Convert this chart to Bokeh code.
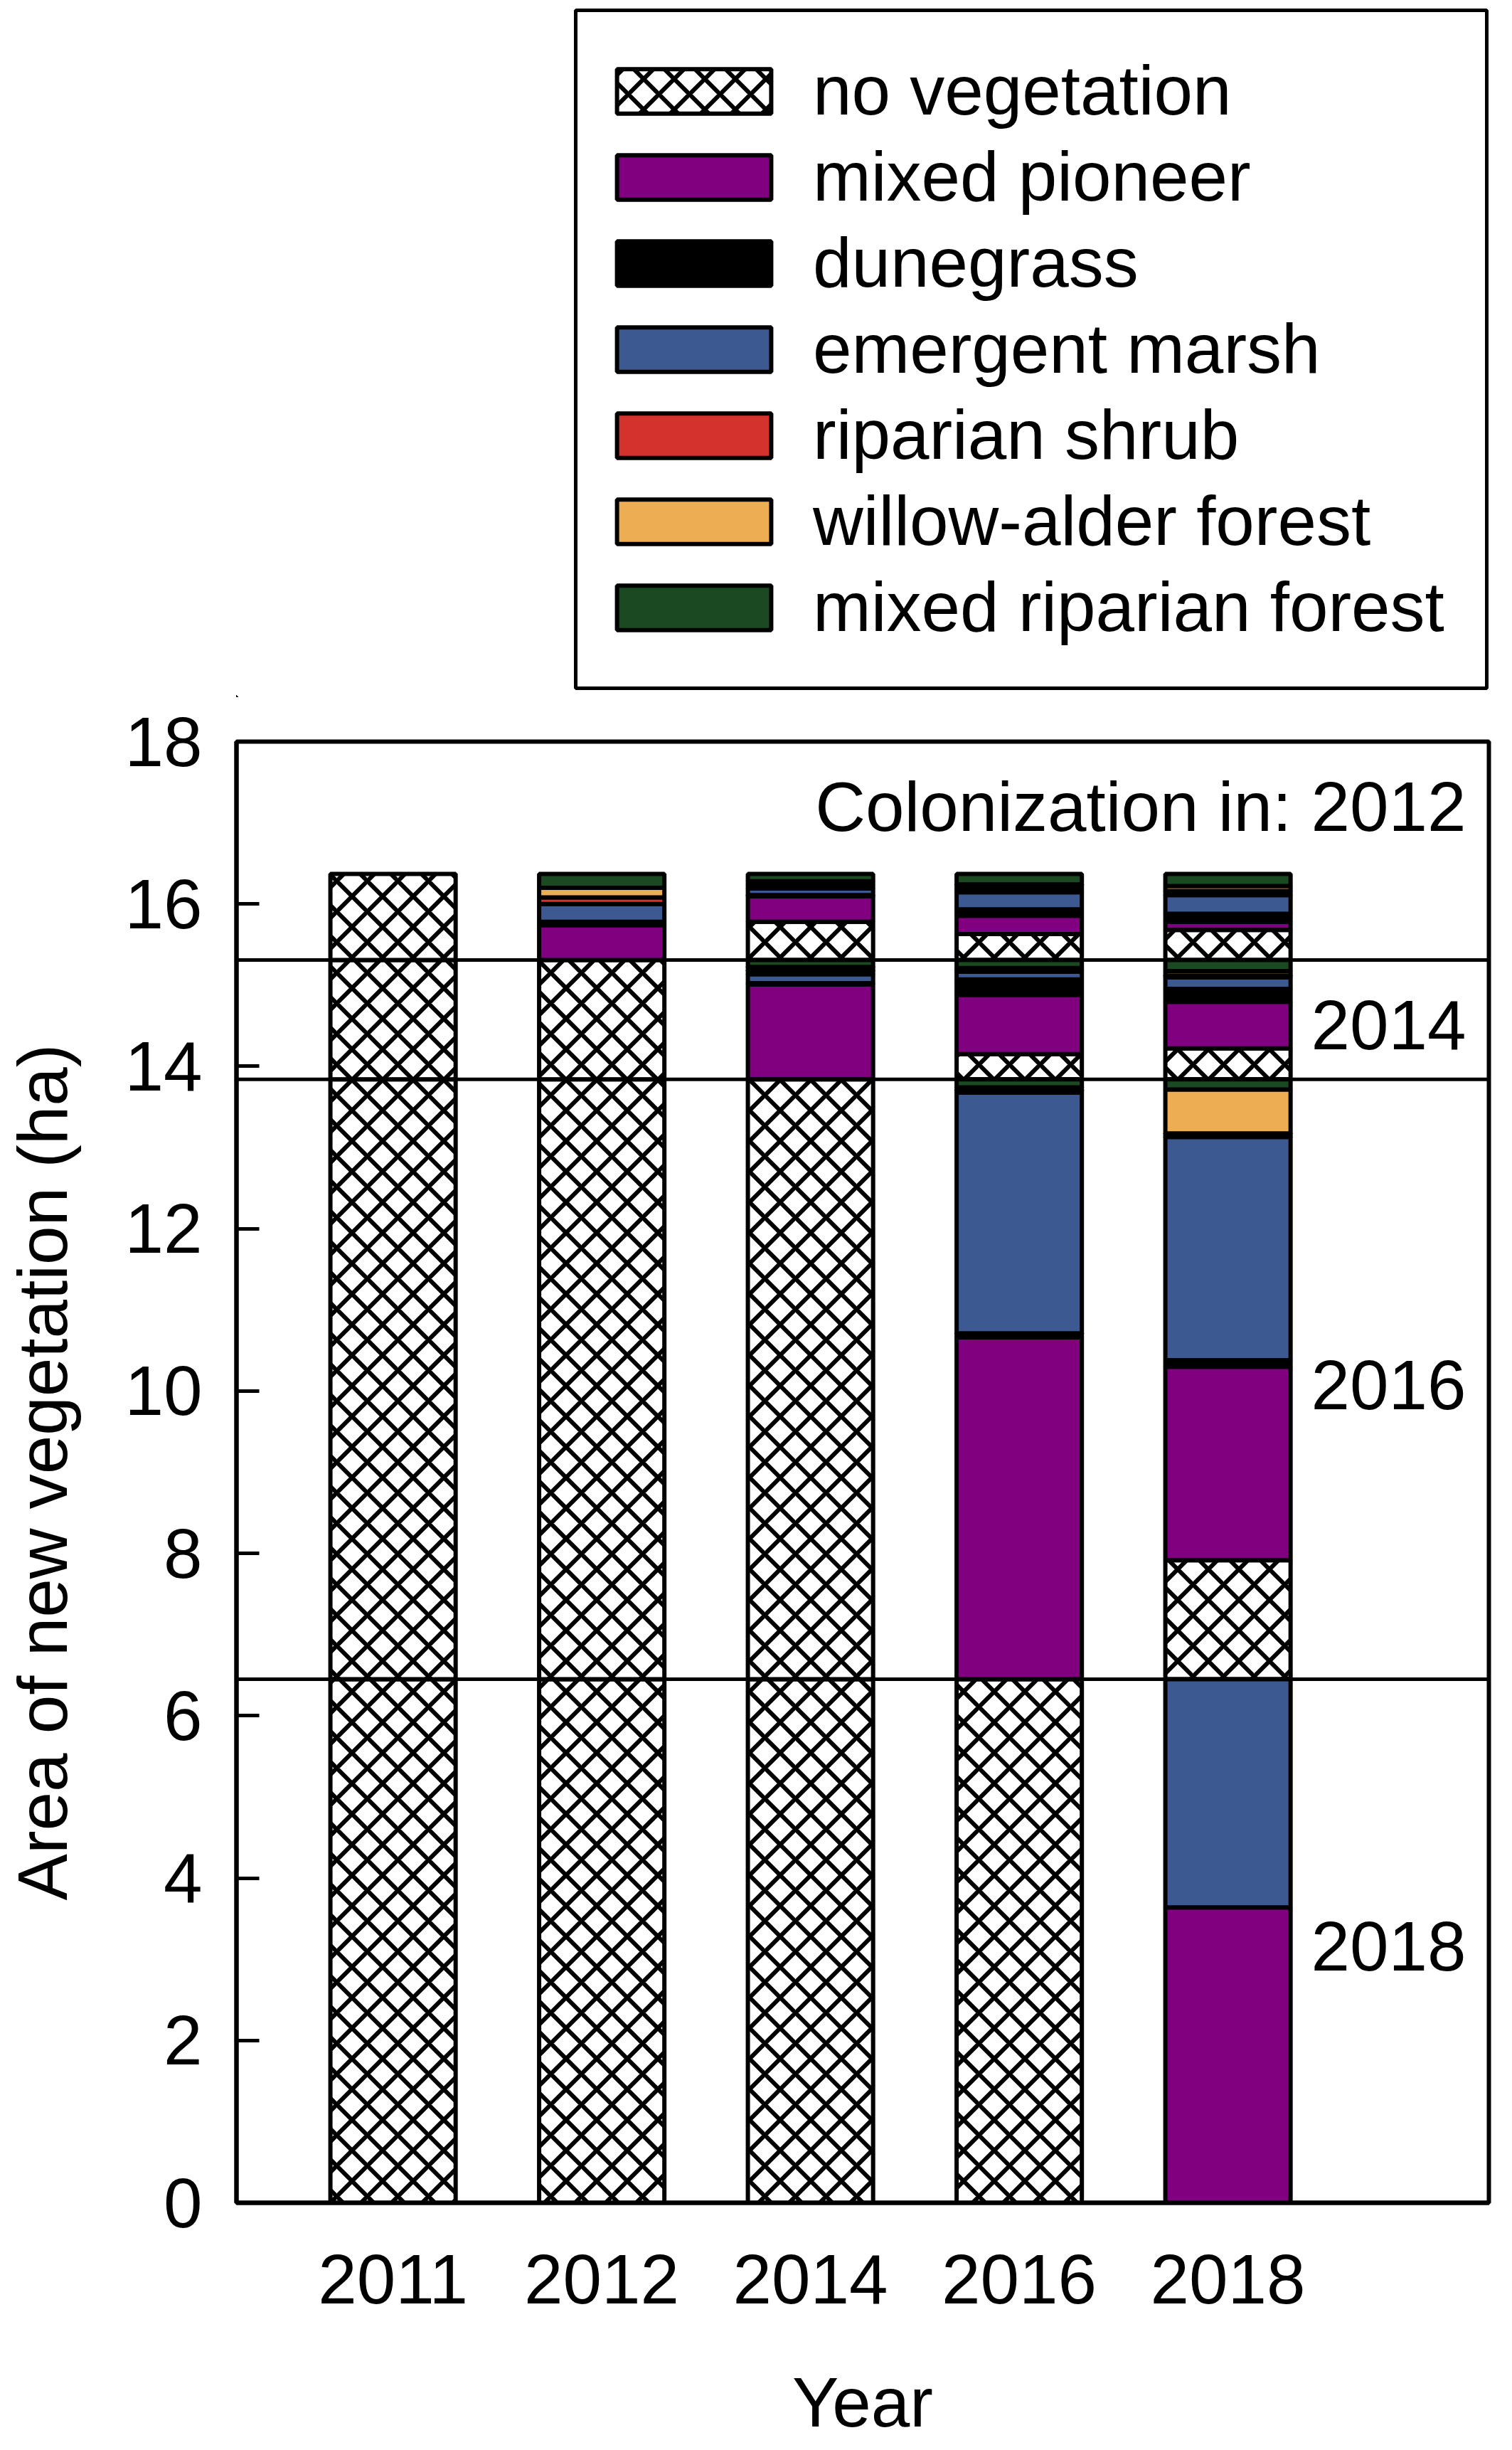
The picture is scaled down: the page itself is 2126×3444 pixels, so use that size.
import numpy as np
from bokeh.plotting import figure
from bokeh.layouts import column
from bokeh.models import Legend, LegendItem, FixedTicker, Span, Range1d, Label, BoxAnnotation
from bokeh.embed import file_html
from bokeh.resources import INLINE
from bokeh.core.properties import value

# ---------------- data ----------------
years = ["2011", "2012", "2014", "2016", "2018"]
# colonization cohorts, stacked from the bottom of each bar to the top
cohorts = ["2018", "2016", "2014", "Colonization in: 2012"]
categories = ["no vegetation", "mixed pioneer", "dunegrass", "emergent marsh",
              "riparian shrub", "willow-alder forest", "mixed riparian forest"]
colors = ["white", "#800080", "#000000", "#3C5A91", "#D3322D", "#EDAD52", "#1B4A22"]

# area (ha) per cohort (rows: cohort 2018, 2016, 2014, 2012) in category order
area_2011 = [[6.45, 0, 0, 0, 0, 0, 0],
             [7.39, 0, 0, 0, 0, 0, 0],
             [1.47, 0, 0, 0, 0, 0, 0],
             [1.06, 0, 0, 0, 0, 0, 0]]
area_2012 = [[6.45, 0, 0, 0, 0, 0, 0],
             [7.39, 0, 0, 0, 0, 0, 0],
             [1.47, 0, 0, 0, 0, 0, 0],
             [0, 0.43, 0.04, 0.22, 0.08, 0.12, 0.17]]
area_2014 = [[6.45, 0, 0, 0, 0, 0, 0],
             [7.39, 0, 0, 0, 0, 0, 0],
             [0, 1.17, 0.015, 0.11, 0.045, 0.045, 0.085],
             [0.47, 0.315, 0.015, 0.08, 0.045, 0.045, 0.09]]
area_2016 = [[6.45, 0, 0, 0, 0, 0, 0],
             [0, 4.21, 0.05, 2.965, 0.033, 0.033, 0.099],
             [0.31, 0.73, 0.19, 0.096, 0.022, 0.022, 0.10],
             [0.32, 0.225, 0.08, 0.21, 0.045, 0.05, 0.13]]
area_2018 = [[0, 3.64, 0, 2.81, 0, 0, 0],
             [1.465, 2.385, 0.08, 2.75, 0.044, 0.54, 0.126],
             [0.38, 0.575, 0.16, 0.14, 0.023, 0.055, 0.137],
             [0.37, 0.10, 0.10, 0.23, 0.05, 0.06, 0.15]]

bars = [area_2011, area_2012, area_2014, area_2016, area_2018]

# ---------------- build segments ----------------
segs = {c: dict(x=[], bottom=[], top=[]) for c in categories}
for i, bar in enumerate(bars):
    base = 0.0
    for cohort_vals in bar:
        for cat, v in zip(categories, cohort_vals):
            if v > 0:
                segs[cat]["x"].append(i)
                segs[cat]["bottom"].append(base)
                segs[cat]["top"].append(base + v)
            base += v

cohort_totals = [sum(row) for row in area_2011]
bounds = np.cumsum(cohort_totals)

FONT = "Liberation Sans"
FS = "98px"
W = 2110
BL, BR = 332, 17
LEG_H = 980
FRAME_W = W - BL - BR
OFF = 10000  # legend panel uses pixel-like units, shifted so the proxy bars stay out of view


def style_kw(cat, col):
    kw = dict(fill_color=col, line_color="black", line_width=6)
    if cat == "no vegetation":
        kw.update(hatch_pattern="diagonal_cross", hatch_color="black",
                  hatch_weight=6, hatch_scale=43)
    return kw


# ---------------- legend panel ----------------
fl = figure(width=W, height=LEG_H, output_backend="svg", toolbar_location=None,
            x_range=Range1d(OFF, OFF + FRAME_W), y_range=Range1d(OFF, OFF + LEG_H),
            x_axis_location=None, y_axis_location=None,
            min_border_left=BL, min_border_right=BR, min_border_top=0, min_border_bottom=0)
fl.grid.visible = False
fl.outline_line_color = None
leg_renderers = []
for cat, col in zip(categories, colors):
    leg_renderers.append(fl.vbar(x=segs[cat]["x"], width=0.6, bottom=segs[cat]["bottom"],
                                 top=segs[cat]["top"], **style_kw(cat, col)))

legend = Legend(items=[LegendItem(label=c, renderers=[r]) for c, r in zip(categories, leg_renderers)],
                location=(508, 70), orientation="vertical",
                glyph_width=271, glyph_height=78, label_standoff=32,
                spacing=8, padding=33, margin=0,
                label_text_font=FONT, label_text_font_size=FS, label_text_color="black",
                border_line_color=None, background_fill_alpha=0.0)
fl.add_layout(legend, "center")
fl.add_layout(BoxAnnotation(left=OFF + 477, right=OFF + 1758, bottom=OFF + 13, top=OFF + 966,
                            fill_color=None, line_color="black", line_width=5, line_alpha=1.0))

# ---------------- main figure ----------------
p = figure(width=W, height=2306, output_backend="svg", toolbar_location=None,
           x_range=Range1d(-0.75, 5.25), y_range=Range1d(0, 18),
           min_border_left=BL, min_border_right=BR, min_border_top=62,
           min_border_bottom=190)

for cat, col in zip(categories, colors):
    p.vbar(x=segs[cat]["x"], width=0.6, bottom=segs[cat]["bottom"], top=segs[cat]["top"],
           **style_kw(cat, col))

for b in bounds[:-1]:
    p.add_layout(Span(location=float(b), dimension="width", line_color="black", line_width=5))

# cohort labels
mids = [(lo + hi) / 2 for lo, hi in zip(np.r_[0, bounds[:-1]], bounds)]
p.text(x=[5.25] * 3, y=mids[:3], text=cohorts[:3], text_align="right",
       text_baseline="middle", x_offset=-32, y_offset=8, text_font=value(FONT),
       text_font_size=FS, text_color="black")
p.add_layout(Label(x=5.25, y=18, text=cohorts[3], text_align="right",
                   text_baseline="alphabetic", x_offset=-32, y_offset=-91,
                   text_font=FONT, text_font_size=FS, text_color="black"))

p.grid.visible = False
p.outline_line_color = "black"
p.outline_line_width = 6

p.xaxis.ticker = FixedTicker(ticks=list(range(len(years))))
p.xaxis.major_label_overrides = {i: y for i, y in enumerate(years)}
p.xaxis.major_tick_in = 0
p.xaxis.major_tick_out = 0
p.xaxis.minor_tick_line_color = None
p.xaxis.axis_line_width = 6
p.xaxis.major_label_standoff = 73

p.yaxis.ticker = FixedTicker(ticks=list(range(0, 19, 2)))
p.yaxis.major_tick_in = 32
p.yaxis.major_tick_out = 0
p.yaxis.major_tick_line_width = 5
p.yaxis.minor_tick_line_color = None
p.yaxis.axis_line_width = 6
p.yaxis.major_label_standoff = 48
p.yaxis.axis_label = "Area of new vegetation (ha)"
p.yaxis.axis_label_standoff = 57

for ax in (p.xaxis, p.yaxis):
    ax.major_label_text_font = FONT
    ax.major_label_text_font_size = FS
    ax.major_label_text_color = "black"
    ax.axis_label_text_font = FONT
    ax.axis_label_text_font_size = FS
    ax.axis_label_text_font_style = "normal"
    ax.axis_label_text_color = "black"

# ---------------- x axis title strip ----------------
fy = figure(width=W, height=150, output_backend="svg", toolbar_location=None,
            x_range=p.x_range, y_range=Range1d(0, 150),
            x_axis_location=None, y_axis_location=None,
            min_border_left=BL, min_border_right=BR, min_border_top=0, min_border_bottom=0)
fy.grid.visible = False
fy.outline_line_color = None
fy.add_layout(Label(x=2.25, y=60, text="Year", text_align="center", text_baseline="middle",
                    text_font=FONT, text_font_size=FS, text_color="black"))

layout = column(fl, p, fy, spacing=0)
open("out.html", "w").write(file_html(layout, INLINE))
